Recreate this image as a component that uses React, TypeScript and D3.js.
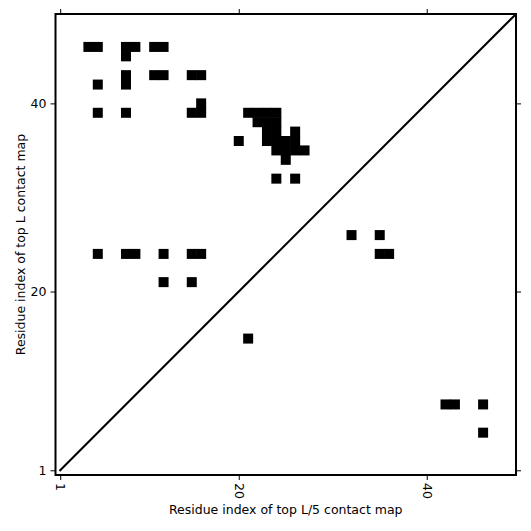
import React, { useRef, useEffect } from 'react';
import * as d3 from 'd3';

// residue count (map is L x L)
const L = 49;

// top L contacts, drawn above the diagonal: [x residue, y residue]
const topLContacts: [number, number][] = [
  [4, 46], [5, 46], [8, 46], [9, 46], [8, 45], [11, 46], [12, 46],
  [8, 43], [11, 43], [12, 43], [15, 43], [16, 43], [8, 42], [5, 42],
  [16, 40], [5, 39], [8, 39], [15, 39], [16, 39],
  [21, 39], [22, 39], [23, 39], [24, 39], [22, 38], [23, 38], [24, 38],
  [23, 37], [24, 37], [26, 37], [20, 36], [23, 36], [24, 36], [25, 36], [26, 36],
  [24, 35], [25, 35], [26, 35], [27, 35], [25, 34], [24, 32], [26, 32],
  [5, 24], [8, 24], [9, 24], [12, 24], [15, 24], [16, 24], [12, 21], [15, 21],
];

// top L/5 contacts, drawn below the diagonal
const topL5Contacts: [number, number][] = [
  [32, 26], [35, 26], [35, 24], [36, 24], [21, 15],
  [42, 8], [43, 8], [46, 8], [46, 5],
];

const tickValues = [1, 20, 40];
const xLabel = 'Residue index of top L/5 contact map';
const yLabel = 'Residue index of top L contact map';

const ContactMap = () => {
  const ref = useRef<SVGSVGElement>(null);

  useEffect(() => {
    const width = 531;
    const height = 531;
    const left = 55.5, right = 516, top = 14, bottom = 475;
    const font = 'DejaVu Sans, sans-serif';

    const svg = d3.select(ref.current);
    svg.selectAll('*').remove();
    svg.attr('width', width).attr('height', height);

    svg.append('rect').attr('width', width).attr('height', height).attr('fill', 'white');

    const x = d3.scaleLinear().domain([0.5, L + 0.5]).range([left, right]);
    const y = d3.scaleLinear().domain([0.5, L + 0.5]).range([bottom, top]);
    const cw = x(1.5) - x(0.5);
    const ch = y(0.5) - y(1.5);

    svg.append('clipPath').attr('id', 'plot-clip')
      .append('rect')
      .attr('x', left).attr('y', top)
      .attr('width', right - left).attr('height', bottom - top);

    const plot = svg.append('g').attr('clip-path', 'url(#plot-clip)');

    // small overlap so neighbouring cells merge without seams
    plot.selectAll('rect.cell')
      .data([...topLContacts, ...topL5Contacts])
      .join('rect')
      .attr('class', 'cell')
      .attr('x', d => x(d[0] - 0.5) - 0.3)
      .attr('y', d => y(d[1] + 0.5) - 0.3)
      .attr('width', cw + 0.6)
      .attr('height', ch + 0.6)
      .attr('fill', 'black');

    plot.append('line')
      .attr('x1', x(1)).attr('y1', y(1))
      .attr('x2', x(L + 0.5)).attr('y2', y(L + 0.5))
      .attr('stroke', 'black')
      .attr('stroke-width', 2)
      .attr('stroke-linecap', 'square');

    const axisStyle = (g: d3.Selection<SVGGElement, unknown, null, undefined>) => {
      g.select('.domain').remove();
      g.selectAll('line').attr('stroke', 'black').attr('stroke-width', 1);
      g.selectAll('text').attr('fill', 'black').style('font-family', font).style('font-size', '12.5px');
    };

    svg.append('g')
      .attr('transform', `translate(0,${bottom})`)
      .call(d3.axisBottom(x).tickValues(tickValues).tickSize(5).tickPadding(3).tickFormat(d3.format('d')))
      .call(axisStyle)
      .call(g => g.selectAll('text')
        .attr('transform', 'rotate(90)')
        .attr('x', 8).attr('y', 0).attr('dy', '0.35em')
        .attr('text-anchor', 'start'));

    svg.append('g')
      .attr('transform', `translate(0,${top})`)
      .call(d3.axisTop(x).tickValues(tickValues).tickSize(5).tickFormat(() => ''))
      .call(axisStyle);

    svg.append('g')
      .attr('transform', `translate(${left},0)`)
      .call(d3.axisLeft(y).tickValues(tickValues).tickSize(5).tickPadding(4).tickFormat(d3.format('d')))
      .call(axisStyle);

    svg.append('g')
      .attr('transform', `translate(${right},0)`)
      .call(d3.axisRight(y).tickValues(tickValues).tickSize(5).tickFormat(() => ''))
      .call(axisStyle);

    svg.append('rect')
      .attr('x', left).attr('y', top)
      .attr('width', right - left).attr('height', bottom - top)
      .attr('fill', 'none')
      .attr('stroke', 'black')
      .attr('stroke-width', 2);

    svg.append('text')
      .attr('x', (left + right) / 2)
      .attr('y', 514)
      .attr('text-anchor', 'middle')
      .style('font-family', font)
      .style('font-size', '12.5px')
      .text(xLabel);

    svg.append('text')
      .attr('transform', `translate(25,${(top + bottom) / 2}) rotate(-90)`)
      .attr('text-anchor', 'middle')
      .style('font-family', font)
      .style('font-size', '12.5px')
      .text(yLabel);
  }, []);

  return <svg ref={ref} style={{ position: 'absolute', left: 0, top: 0 }}></svg>;
};

export default function App() {
  return <ContactMap />;
}
